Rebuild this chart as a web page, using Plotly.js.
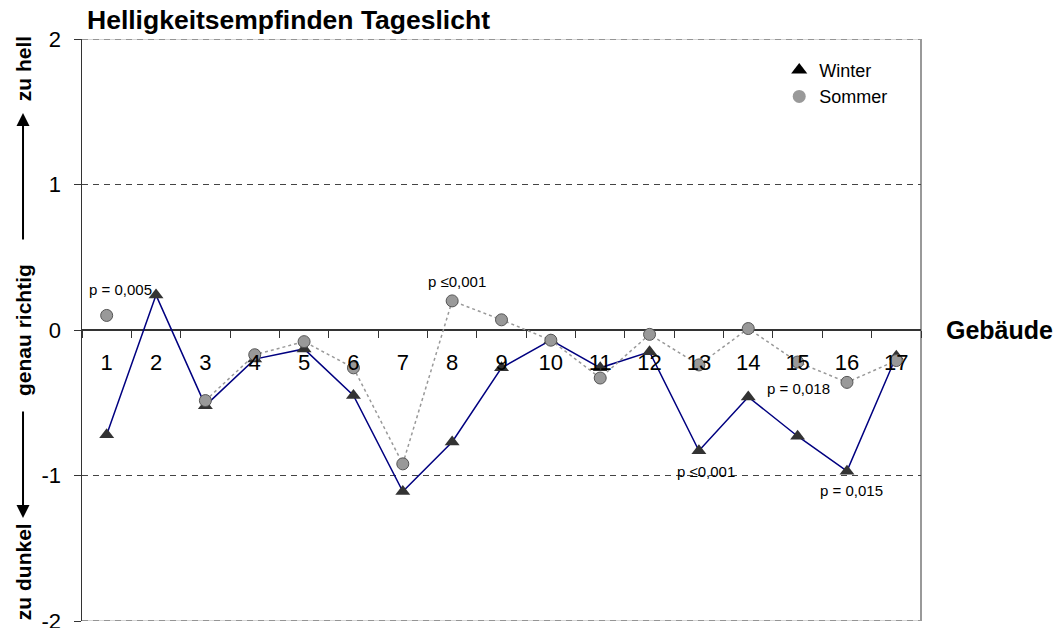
<!DOCTYPE html>
<html>
<head>
<meta charset="utf-8">
<script src="https://cdn.plot.ly/plotly-3.0.1.min.js"></script>
<style>html,body{margin:0;padding:0;background:#fff;}#chart{width:1062px;height:628px;}</style>
</head>
<body>
<div id="chart"></div>
<script>
// ---- data ----
const categories = ['1','2','3','4','5','6','7','8','9','10','11','12','13','14','15','16','17'];
const winter = [-0.72, 0.24, -0.52, -0.20, -0.13, -0.45, -1.11, -0.77, -0.26, -0.07, -0.26, -0.15, -0.83, -0.46, -0.73, -0.97, -0.18];
const sommer = [0.10, null, -0.485, -0.17, -0.08, -0.26, -0.92, 0.20, 0.07, -0.07, -0.33, -0.03, -0.24, 0.01, -0.22, -0.36, -0.21];
const seriesNames = ['Winter', 'Sommer'];
const pLabels = ['p = 0,005', 'p \u22640,001', 'p \u22640,001', 'p = 0,018', 'p = 0,015'];
const pX = [0.27, 7.10, 12.14, 14.01, 15.10];   // category index positions
const pY = [0.276, 0.331, -0.972, -0.40, -1.103];
const yTicks = [-2, -1, 0, 1, 2];
const titleText = 'Helligkeitsempfinden Tageslicht';
const xTitle = 'Gebäude';
const yLabelParts = ['zu hell', 'genau richtig', 'zu dunkel'];

const FONT = 'Liberation Sans, Arial, sans-serif';

const traces = [
  {
    x: categories, y: winter, type: 'scatter', mode: 'lines+markers', showlegend: false,
    line: {color: '#000080', width: 1.5},
    marker: {symbol: 'triangle-up', size: 13, color: '#333333', line: {width: 0}},
    hoverinfo: 'skip'
  },
  {
    x: categories, y: sommer, type: 'scatter', mode: 'lines+markers', showlegend: false,
    connectgaps: false,
    line: {color: '#999999', width: 1.5, dash: 'dot'},
    marker: {symbol: 'circle', size: 12, color: '#999999', line: {color: '#555555', width: 1}},
    hoverinfo: 'skip'
  },
  // legend entries (markers only)
  {
    x: [null], y: [null], type: 'scatter', mode: 'markers', name: seriesNames[0],
    marker: {symbol: 'triangle-up', size: 14, color: '#000000'}
  },
  {
    x: [null], y: [null], type: 'scatter', mode: 'markers', name: seriesNames[1],
    marker: {symbol: 'circle', size: 13, color: '#999999'}
  }
];

const annotations = pLabels.map((t, i) => ({
  x: pX[i], y: pY[i], xref: 'x', yref: 'y', text: t, showarrow: false,
  font: {family: FONT, size: 15, color: '#000'}, xanchor: 'center', yanchor: 'middle'
}));

// axis-side labels
annotations.push({
  xref: 'paper', yref: 'paper', x: 1.094, y: 0.5, text: '<b>' + xTitle + '</b>', showarrow: false,
  font: {family: FONT, size: 25, color: '#000'}, xanchor: 'center', yanchor: 'middle'
});
const yLabX = -0.0703;
const yLabY = [0.948, 0.5, 0.084];
yLabelParts.forEach((t, i) => annotations.push({
  xref: 'paper', yref: 'paper', x: yLabX, y: yLabY[i], text: '<b>' + t + '</b>', showarrow: false,
  textangle: -90, font: {family: FONT, size: 21, color: '#000'}, xanchor: 'center', yanchor: 'middle'
}));
// arrows
annotations.push({
  xref: 'paper', yref: 'paper', x: yLabX, y: 0.8729, text: '', showarrow: true,
  ax: 0, ay: 128, arrowhead: 2, arrowsize: 1.3, arrowwidth: 2, arrowcolor: '#000'
});
annotations.push({
  xref: 'paper', yref: 'paper', x: yLabX, y: 0.177, text: '', showarrow: true,
  ax: 0, ay: -108, arrowhead: 2, arrowsize: 1.3, arrowwidth: 2, arrowcolor: '#000'
});

const layout = {
  width: 1062, height: 628,
  margin: {l: 82, r: 141, t: 39, b: 7},
  paper_bgcolor: '#ffffff', plot_bgcolor: '#ffffff',
  font: {family: FONT, color: '#000'},
  title: {
    text: '<b>' + titleText + '</b>', xref: 'container', yref: 'container',
    x: 87 / 1062, xanchor: 'left', y: 1 - 20 / 628, yanchor: 'middle',
    font: {family: FONT, size: 26.5, color: '#000'}
  },
  xaxis: {
    type: 'category', categoryorder: 'array', categoryarray: categories,
    anchor: 'free', position: 0.5,
    range: [-0.5, 16.5],
    tickson: 'boundaries', ticks: 'outside', ticklen: 7, tickwidth: 1, tickcolor: '#333',
    showline: false, showgrid: false, zeroline: false,
    tickfont: {family: FONT, size: 22, color: '#000'},
    ticklabelstandoff: 17
  },
  yaxis: {
    range: [-2, 2], tickvals: yTicks, ticktext: yTicks.map(String),
    ticks: 'outside', ticklen: 7, tickwidth: 1, tickcolor: '#333',
    showline: true, linecolor: '#333', linewidth: 1.5,
    showgrid: true, gridcolor: '#444', gridwidth: 1, griddash: '6px,5px',
    zeroline: true, zerolinecolor: '#333', zerolinewidth: 1.5,
    tickfont: {family: FONT, size: 22, color: '#000'},
    ticklabelstandoff: 8, ticklabeloverflow: 'allow'
  },
  legend: {
    x: 0.831, y: 0.978, xanchor: 'left', yanchor: 'top',
    bgcolor: 'rgba(0,0,0,0)', borderwidth: 0,
    font: {family: FONT, size: 18, color: '#000'}
  },
  shapes: [
    {type: 'line', xref: 'paper', yref: 'y', x0: 0, x1: 1, y0: 2, y1: 2, layer: 'between', line: {color: '#c8c8c8', width: 1.5}},
    {type: 'line', xref: 'paper', yref: 'y', x0: 0, x1: 1, y0: 2, y1: 2, layer: 'between', line: {color: '#808080', width: 1.5, dash: '6px,5px'}},
    {type: 'line', xref: 'paper', yref: 'y', x0: 0, x1: 1, y0: -2, y1: -2, layer: 'between', line: {color: '#c8c8c8', width: 1.5}},
    {type: 'line', xref: 'paper', yref: 'y', x0: 0, x1: 1, y0: -2, y1: -2, layer: 'between', line: {color: '#808080', width: 1.5, dash: '6px,5px'}},
    {type: 'line', xref: 'paper', yref: 'paper', x0: 1, x1: 1, y0: 0, y1: 1, layer: 'between', line: {color: '#999999', width: 2}}
  ],
  annotations: annotations
};

Plotly.newPlot('chart', traces, layout, {displayModeBar: false, staticPlot: true});
</script>
</body>
</html>
